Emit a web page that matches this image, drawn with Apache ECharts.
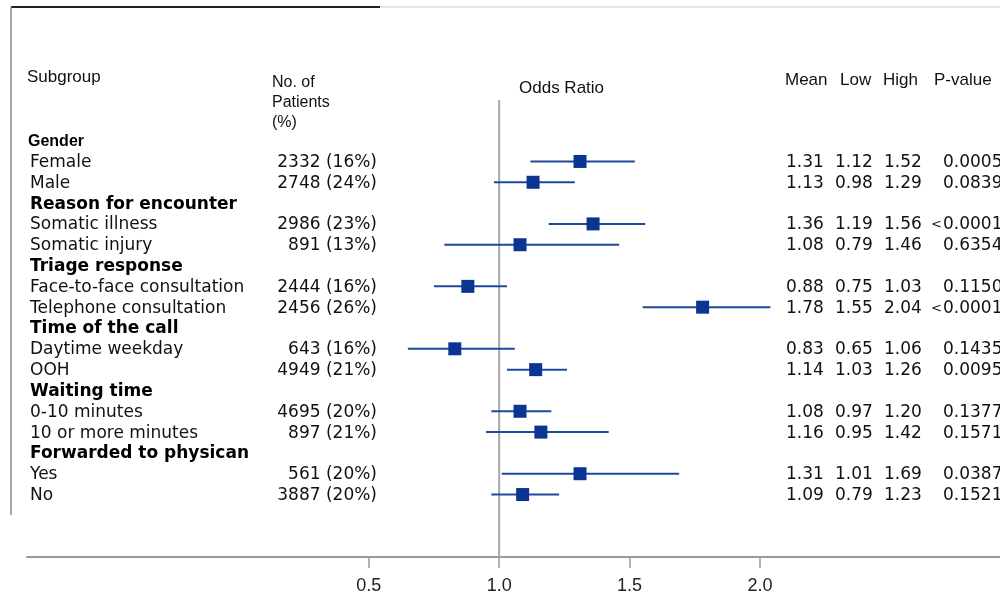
<!DOCTYPE html>
<html>
<head>
<meta charset="utf-8">
<script src="https://cdn.jsdelivr.net/npm/echarts@6/dist/echarts.min.js"></script>
<style>html,body{margin:0;padding:0;background:#fff}#c{width:1000px;height:610px}</style>
</head>
<body>
<div id="c"></div>
<script>
// ---- data ----
const groupNames = ['Gender','Reason for encounter','Triage response','Time of the call','Waiting time','Forwarded to physican'];
const subgroupNames = ['Female','Male','Somatic illness','Somatic injury','Face-to-face consultation','Telephone consultation','Daytime weekday','OOH','0-10 minutes','10 or more minutes','Yes','No'];
const patientsText = ['2332 (16%)','2748 (24%)','2986 (23%)','891 (13%)','2444 (16%)','2456 (26%)','643 (16%)','4949 (21%)','4695 (20%)','897 (21%)','561 (20%)','3887 (20%)'];
const meanText = ['1.31','1.13','1.36','1.08','0.88','1.78','0.83','1.14','1.08','1.16','1.31','1.09'];
const lowText  = ['1.12','0.98','1.19','0.79','0.75','1.55','0.65','1.03','0.97','0.95','1.01','0.79'];
const highText = ['1.52','1.29','1.56','1.46','1.03','2.04','1.06','1.26','1.20','1.42','1.69','1.23'];
const pPrefix  = ['','','<','','','<','','','','','',''];
const pText    = ['0.0005','0.0839','0.0001','0.6354','0.1150','0.0001','0.1435','0.0095','0.1377','0.1571','0.0387','0.1521'];
// plotted odds ratios and CI ends (as drawn)
const orMean = [1.31,1.13,1.36,1.08,0.88,1.78,0.83,1.14,1.08,1.16,1.31,1.09];
const ciLow  = [1.12,0.98,1.19,0.79,0.75,1.55,0.65,1.03,0.97,0.95,1.01,0.97];
const ciHigh = [1.52,1.29,1.56,1.46,1.03,2.04,1.06,1.26,1.20,1.42,1.69,1.23];
const xTicks = [0.5,1.0,1.5,2.0];
const refValue = 1.0;

// ---- layout helpers ----
function rowOfSub(i){ return Math.floor(i/2)*3 + 1 + (i%2); }
function rowOfGroup(g){ return g*3; }

const chart = echarts.init(document.getElementById('c'), null, {renderer:'canvas'});
const rowFont = 'DejaVu Sans, Verdana, sans-serif';
const arial = 'Liberation Sans, Arial, sans-serif';
const blue = '#0a3592';
const lineBlue = '#1d4a9c';

const subData = subgroupNames.map((n,i)=>[0, rowOfSub(i), i]);
const groupData = groupNames.map((n,g)=>[0, rowOfGroup(g), g]);

const option = {
  animation:false,
  backgroundColor:'#fff',
  grid:{left:27, right:0, top:99, bottom:53},
  xAxis:{
    type:'value', min:-0.81, max:2.92, position:'bottom',
    splitLine:{show:false},
    axisLine:{show:true, onZero:false, lineStyle:{color:'#9a9a9a', width:2}},
    axisTick:{show:true, customValues:xTicks, length:11, lineStyle:{color:'#9a9a9a', width:1.5}},
    axisLabel:{show:true, customValues:xTicks, margin:20, fontSize:18, color:'#222',
      fontFamily:'Liberation Sans Narrow, Liberation Sans, Arial, sans-serif',
      formatter:v=>v.toFixed(1)}
  },
  yAxis:{type:'value', inverse:true, min:-2, max:20, show:false},
  graphic:[
    {type:'line', shape:{x1:11,y1:7,x2:380,y2:7}, style:{stroke:'#222', lineWidth:2}},
    {type:'line', shape:{x1:380,y1:7,x2:1000,y2:7}, style:{stroke:'#e6e6e6', lineWidth:2}},
    {type:'line', shape:{x1:11,y1:7,x2:11,y2:515}, style:{stroke:'#888', lineWidth:1.5}},
    {type:'text', left:27, top:69, style:{text:'Subgroup', font:'17px '+arial, fill:'#111'}},
    {type:'text', left:272, top:73, style:{text:'No. of\nPatients\n(%)', font:'16px '+arial, fill:'#111', lineHeight:20}},
    {type:'text', left:519, top:80, style:{text:'Odds Ratio', font:'17px '+arial, fill:'#111'}},
    {type:'text', left:785, top:72, style:{text:'Mean', font:'17px '+arial, fill:'#111'}},
    {type:'text', left:840, top:72, style:{text:'Low', font:'17px '+arial, fill:'#111'}},
    {type:'text', left:883, top:72, style:{text:'High', font:'17px '+arial, fill:'#111'}},
    {type:'text', left:934, top:72, style:{text:'P-value', font:'17px '+arial, fill:'#111'}}
  ],
  series:[
    {
      type:'line', data:[[refValue,-1.95],[refValue,20]], symbol:'none', silent:true,
      lineStyle:{color:'#a8a8a8', width:2}, z:1
    },
    {
      type:'custom', z:2,
      data: subgroupNames.map((n,i)=>[ciLow[i], ciHigh[i], rowOfSub(i)]),
      renderItem:function(params, api){
        const p1 = api.coord([api.value(0), api.value(2)]);
        const p2 = api.coord([api.value(1), api.value(2)]);
        return {type:'line', shape:{x1:p1[0],y1:p1[1],x2:p2[0],y2:p2[1]}, style:{stroke:lineBlue, lineWidth:2}};
      }
    },
    {
      type:'scatter', z:3, symbol:'rect', symbolSize:13,
      itemStyle:{color:blue, opacity:1},
      data: orMean.map((v,i)=>[v, rowOfSub(i)])
    },
    {
      type:'custom', z:4, silent:true,
      data: groupData,
      renderItem:function(params, api){
        const g = api.value(2);
        const y = api.coord([0, api.value(1)])[1] + 1;
        const isFirst = g===0;
        return {type:'text', x: isFirst?28:30, y:y,
          style:{text:groupNames[g], font: isFirst ? ('bold 16px '+arial) : ('bold 17px '+rowFont),
            fill:'#000', textVerticalAlign:'middle', textAlign:'left'}};
      }
    },
    {
      type:'custom', z:4, silent:true,
      data: subData,
      renderItem:function(params, api){
        const i = api.value(2);
        const y = api.coord([0, api.value(1)])[1] + 1;
        const f = '17px '+rowFont;
        const mk = (x, t, align, font) => ({type:'text', x:x, y:y,
          style:{text:t, font:font||f, fill:'#111', textVerticalAlign:'middle', textAlign:align}});
        const children = [
          mk(30, subgroupNames[i], 'left'),
          mk(377, patientsText[i], 'right'),
          mk(786, meanText[i], 'left'),
          mk(835, lowText[i], 'left'),
          mk(884, highText[i], 'left'),
          mk(943, pText[i], 'left')
        ];
        if (pPrefix[i]) children.push(mk(942, pPrefix[i], 'right', '13px '+rowFont));
        return {type:'group', children:children};
      }
    }
  ]
};
chart.setOption(option);
</script>
</body>
</html>
